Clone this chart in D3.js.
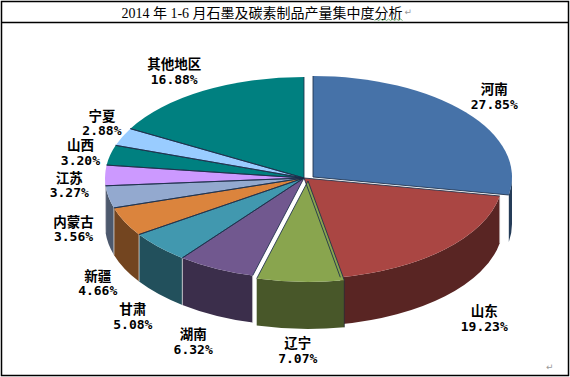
<!DOCTYPE html>
<html>
<head>
<meta charset="utf-8">
<script src="https://cdn.jsdelivr.net/npm/d3@7"></script>
<style>
  body { margin: 0; background: #fff; }
  svg { display: block; }
</style>
</head>
<body>
<div id="chart"></div>
<script>
// data
const regions = ["河南", "山东", "辽宁", "湖南", "甘肃", "新疆", "内蒙古", "江苏", "山西", "宁夏", "其他地区"];
const shares = [27.85, 19.23, 7.07, 6.32, 5.08, 4.66, 3.56, 3.27, 3.20, 2.88, 16.88];
const title = "2014 年 1-6 月石墨及碳素制品产量集中度分析";

// styles
const colors = ["#4672a8", "#aa4643", "#89a54e", "#71588f", "#4198af", "#db843d",
                "#93a9cf", "#cc99ff", "#008080", "#99ccff", "#008080"];
const explode = [[9, -1], [0, 0], [4, 3], [0, 0], [0, 0], [0, 0], [0, 0], [0, 0], [0, 0], [0, 0], [0, 0]];
const labelNudge = [[7, -1], [11, 4], [3, -1], [-5, 3], [3, 5], [9, 3], [4, -20], [4, 10], [9, 3], [16, -4], [-9, 2]];

const width = 570, height = 377;
const cx = 304, cy = 178, rx = 199, ry = 101, depth = 47;

const svg = d3.select("#chart").append("svg")
  .attr("width", width)
  .attr("height", height);

// frame
svg.append("rect")
  .attr("x", 1.5).attr("y", 1.5)
  .attr("width", 567).attr("height", 374)
  .attr("fill", "none").attr("stroke", "#000").attr("stroke-width", 1.5);
svg.append("line")
  .attr("x1", 1.5).attr("x2", 568.5).attr("y1", 22.5).attr("y2", 22.5)
  .attr("stroke", "#000").attr("stroke-width", 1.5);

// title
const titleText = svg.append("text")
  .attr("x", 262).attr("y", 13)
  .attr("text-anchor", "middle")
  .attr("dominant-baseline", "central")
  .attr("font-family", "'Liberation Serif', 'Noto Sans CJK SC', serif")
  .attr("font-size", 14)
  .attr("fill", "#000")
  .text(title);

const tn = titleText.node();
const iSpell = title.indexOf("分析");
const wx0 = tn.getStartPositionOfChar(iSpell).x;
const wx1 = tn.getEndPositionOfChar(title.length - 1).x;
const wave = d3.range(wx0, wx1, 2).map((x, i) => [x, i % 2 ? 19 : 20.5]);
svg.append("path")
  .attr("d", d3.line()(wave))
  .attr("fill", "none").attr("stroke", "#5aa05a").attr("stroke-width", 0.8);
svg.append("text")
  .attr("x", wx1 + 2).attr("y", 15)
  .attr("font-size", 9).attr("fill", "#999")
  .attr("font-family", "'DejaVu Sans', sans-serif")
  .text("↵");

// pie geometry
const data = regions.map((r, i) => ({ name: r, value: shares[i], color: colors[i], off: explode[i], nudge: labelNudge[i] }));
const arcs = d3.pie().sort(null).value(d => d.value)(data);

const pt = (a, o, dz = 0) => [cx + o[0] + rx * Math.sin(a), cy + o[1] - ry * Math.cos(a) + dz];
const f = p => `${p[0].toFixed(2)},${p[1].toFixed(2)}`;

function topPath(d) {
  const o = d.data.off;
  const c = [cx + o[0], cy + o[1]];
  const large = d.endAngle - d.startAngle > Math.PI ? 1 : 0;
  return `M${f(c)}L${f(pt(d.startAngle, o))}A${rx},${ry} 0 ${large} 1 ${f(pt(d.endAngle, o))}Z`;
}

function wallRange(d) {
  const s = Math.max(d.startAngle, Math.PI / 2);
  const e = Math.min(d.endAngle, Math.PI * 1.5);
  return s < e ? [s, e] : null;
}

function wallPath(d) {
  const [s, e] = wallRange(d);
  const o = d.data.off;
  return `M${f(pt(s, o))}A${rx},${ry} 0 0 1 ${f(pt(e, o))}` +
    `L${f(pt(e, o, depth))}A${rx},${ry} 0 0 0 ${f(pt(s, o, depth))}Z`;
}

const walls = arcs.filter(wallRange)
  .sort((a, b) => Math.abs((b.startAngle + b.endAngle) / 2 - Math.PI) - Math.abs((a.startAngle + a.endAngle) / 2 - Math.PI));

const gWall = svg.append("g");
gWall.selectAll("path")
  .data(walls)
  .join("path")
  .attr("d", wallPath)
  .attr("fill", d => d3.color(d.data.color).darker(1.8));

// light seams on the side
gWall.selectAll("line")
  .data(walls)
  .join("line")
  .each(function (d) {
    const [s] = wallRange(d);
    const p = pt(s, d.data.off);
    d3.select(this)
      .attr("x1", p[0]).attr("y1", p[1])
      .attr("x2", p[0]).attr("y2", p[1] + depth);
  })
  .attr("stroke", d => d.data.name === "辽宁" ? "#2a2438" : "#e8e8e8")
  .attr("stroke-width", 0.8)
  .attr("stroke-opacity", d => wallRange(d)[0] > Math.PI / 2 ? 0.9 : 0);

// top faces
const gTop = svg.append("g");
gTop.selectAll("path")
  .data(arcs)
  .join("path")
  .attr("d", topPath)
  .attr("fill", d => d.data.color);

// dark radial seams on the top
const seams = [];
arcs.forEach(d => {
  seams.push({ a: d.startAngle, o: d.data.off });
  seams.push({ a: d.endAngle, o: d.data.off });
});
gTop.selectAll("line")
  .data(seams)
  .join("line")
  .attr("x1", d => cx + d.o[0]).attr("y1", d => cy + d.o[1])
  .attr("x2", d => pt(d.a, d.o)[0]).attr("y2", d => pt(d.a, d.o)[1])
  .attr("stroke", "#1c2f4a").attr("stroke-width", 1).attr("stroke-opacity", 0.85);

// labels
const fmt = d3.format(".2f");
const lab = svg.append("g").selectAll("g")
  .data(arcs)
  .join("g")
  .attr("transform", d => {
    const m = (d.startAngle + d.endAngle) / 2;
    const x = cx + 1.2 * rx * Math.sin(m) + d.data.nudge[0];
    const y = cy - 1.25 * ry * Math.cos(m) + (Math.cos(m) < 0 ? depth : 0) + d.data.nudge[1];
    return `translate(${x},${y})`;
  })
  .attr("text-anchor", "middle")
  .attr("font-weight", "bold")
  .attr("fill", "#000");

lab.append("text")
  .attr("y", -8)
  .attr("dominant-baseline", "central")
  .attr("font-family", "'Noto Sans CJK SC', sans-serif")
  .attr("font-size", 13.5)
  .text(d => d.data.name);

lab.append("text")
  .attr("y", 8)
  .attr("dominant-baseline", "central")
  .attr("font-family", "'DejaVu Sans Mono', monospace")
  .attr("font-size", 13)
  .text(d => fmt(d.data.value) + "%");

// paragraph mark
svg.append("text")
  .attr("x", 546).attr("y", 370)
  .attr("font-size", 9).attr("fill", "#999")
  .attr("font-family", "'DejaVu Sans', sans-serif")
  .text("↵");
</script>
</body>
</html>
